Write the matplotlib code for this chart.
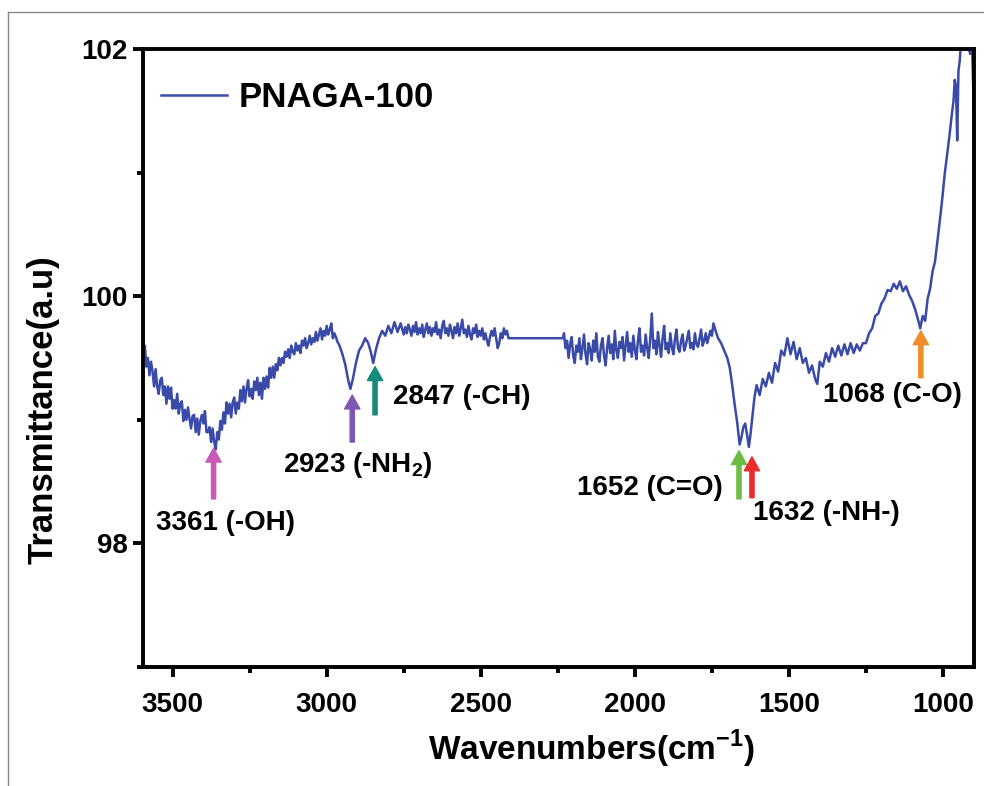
import matplotlib
matplotlib.use('Agg')
import matplotlib.pyplot as plt
from matplotlib.lines import Line2D
from matplotlib.ticker import MultipleLocator

plt.rcParams['font.family'] = ['Liberation Sans']
plt.rcParams['font.weight'] = 'bold'
plt.rcParams['mathtext.fontset'] = 'custom'
plt.rcParams['mathtext.rm'] = 'Liberation Sans:bold'
plt.rcParams['mathtext.bf'] = 'Liberation Sans:bold'

# FTIR spectrum of PNAGA-100
# broad -OH band
wn_oh = [
    3600, 3595, 3590, 3585, 3580, 3575, 3570, 3565, 3560, 3555,
    3550, 3545, 3540, 3535, 3530, 3525, 3520, 3515, 3510, 3505,
    3500, 3495, 3490, 3485, 3480, 3475, 3470, 3465, 3460, 3455,
    3450, 3445, 3440, 3435, 3430, 3425, 3420, 3415, 3410, 3405,
    3400, 3395, 3390, 3385, 3380, 3375, 3370, 3365, 3360, 3355,
    3350, 3345, 3340, 3335, 3330, 3325, 3320, 3315, 3310, 3305,
    3300, 3295, 3290, 3285, 3280, 3275, 3270, 3265, 3260, 3255,
    3250, 3245, 3240, 3235, 3230, 3225, 3220, 3215, 3210, 3205,
    3200, 3195, 3190, 3185, 3180, 3175, 3170, 3165, 3160, 3155,
]
t_oh = [
    99.64, 99.51, 99.60, 99.43, 99.50, 99.36, 99.47, 99.39, 99.27, 99.41,
    99.27, 99.21, 99.32, 99.34, 99.20, 99.27, 99.13, 99.27, 99.17, 99.26,
    99.09, 99.16, 99.09, 99.21, 99.05, 99.13, 99.15, 98.99, 99.08, 99.00,
    99.10, 99.01, 98.93, 99.03, 99.04, 98.90, 99.01, 98.88, 98.99, 99.04,
    98.97, 99.07, 98.90, 98.90, 98.94, 98.82, 98.93, 98.82, 98.76, 98.90,
    98.84, 98.99, 98.92, 99.06, 98.97, 99.14, 99.05, 99.13, 99.02, 99.14,
    99.18, 99.05, 99.14, 99.09, 99.24, 99.15, 99.27, 99.14, 99.25, 99.32,
    99.19, 99.25, 99.17, 99.31, 99.24, 99.34, 99.20, 99.30, 99.17, 99.34,
    99.25, 99.35, 99.26, 99.42, 99.34, 99.43, 99.34, 99.45, 99.40, 99.50,
]
# rise towards the C-H region
wn_rise = [
    3150, 3145, 3140, 3135, 3130, 3125, 3120, 3115, 3110, 3105,
    3100, 3095, 3090, 3085, 3080, 3075, 3070, 3065, 3060, 3055,
    3050, 3045, 3040, 3035, 3030, 3025, 3020, 3015, 3010, 3005,
    3000, 2995, 2990, 2985, 2980, 2975, 2970, 2965, 2960,
]
t_rise = [
    99.44, 99.50, 99.46, 99.55, 99.51, 99.57, 99.50, 99.60, 99.55, 99.53,
    99.62, 99.56, 99.60, 99.54, 99.64, 99.60, 99.66, 99.58, 99.62, 99.68,
    99.61, 99.66, 99.63, 99.71, 99.64, 99.69, 99.74, 99.65, 99.72, 99.68,
    99.76, 99.69, 99.73, 99.78, 99.66, 99.70, 99.67, 99.63, 99.61,
]
# -NH2 and -CH dips
wn_ch = [
    2950, 2940, 2930, 2923, 2915, 2905, 2895, 2885, 2875, 2865,
    2857, 2849, 2840, 2830, 2820, 2810, 2800, 2790, 2780, 2770,
    2760, 2750,
]
t_ch = [
    99.54, 99.45, 99.32, 99.25, 99.33, 99.46, 99.56, 99.60, 99.66, 99.62,
    99.55, 99.46, 99.57, 99.66, 99.72, 99.68, 99.76, 99.70, 99.79, 99.71,
    99.78, 99.69,
]
# plateau before the instrument gap
wn_plat = [
    2745, 2740, 2735, 2730, 2725, 2720, 2715, 2710, 2705, 2700,
    2695, 2690, 2685, 2680, 2675, 2670, 2665, 2660, 2655, 2650,
    2645, 2640, 2635, 2630, 2625, 2620, 2615, 2610, 2605, 2600,
    2595, 2590, 2585, 2580, 2575, 2570, 2565, 2560, 2555, 2550,
    2545, 2540, 2535, 2530, 2525, 2520, 2515, 2510, 2505, 2500,
    2495, 2490, 2485, 2480, 2475, 2470, 2465, 2460, 2455, 2450,
    2445, 2440, 2435, 2430, 2425, 2420, 2415, 2410,
]
t_plat = [
    99.75, 99.70, 99.77, 99.73, 99.68, 99.76, 99.71, 99.79, 99.69, 99.74,
    99.70, 99.77, 99.67, 99.73, 99.78, 99.70, 99.75, 99.68, 99.74, 99.71,
    99.79, 99.69, 99.73, 99.66, 99.76, 99.80, 99.70, 99.74, 99.68, 99.77,
    99.72, 99.66, 99.75, 99.70, 99.78, 99.68, 99.74, 99.81, 99.70, 99.73,
    99.67, 99.76, 99.69, 99.65, 99.74, 99.70, 99.77, 99.67, 99.72, 99.68,
    99.74, 99.65, 99.70, 99.64, 99.60, 99.67, 99.72, 99.68, 99.74, 99.66,
    99.58, 99.62, 99.70, 99.66, 99.74, 99.69, 99.72, 99.66,
]
# noisy stretch 2233-1738
wn_mid = [
    2233, 2230, 2225, 2220, 2215, 2210, 2205, 2200, 2195, 2190,
    2185, 2180, 2175, 2170, 2165, 2160, 2155, 2150, 2145, 2140,
    2135, 2130, 2125, 2120, 2115, 2110, 2105, 2100, 2095, 2090,
    2085, 2080, 2075, 2070, 2065, 2060, 2055, 2050, 2045, 2040,
    2035, 2030, 2025, 2020, 2015, 2010, 2005, 2000, 1995, 1990,
    1985, 1980, 1975, 1970, 1965, 1960, 1955, 1950, 1945, 1940,
    1935, 1930, 1925, 1920, 1915, 1910, 1905, 1900, 1895, 1890,
    1885, 1880, 1875, 1870, 1865, 1860, 1855, 1850, 1845, 1840,
    1835, 1830, 1825, 1820, 1815, 1810, 1805, 1800, 1795, 1790,
    1785, 1780, 1775, 1770, 1765, 1760, 1755, 1750, 1745, 1738,
]
t_mid = [
    99.66, 99.70, 99.58, 99.64, 99.50, 99.61, 99.67, 99.52, 99.46, 99.60,
    99.55, 99.66, 99.49, 99.58, 99.69, 99.53, 99.45, 99.62, 99.57, 99.48,
    99.64, 99.55, 99.70, 99.51, 99.47, 99.60, 99.66, 99.52, 99.44, 99.58,
    99.68, 99.54, 99.61, 99.49, 99.72, 99.56, 99.50, 99.63, 99.58, 99.67,
    99.48, 99.60, 99.71, 99.55, 99.62, 99.51, 99.68, 99.57, 99.49, 99.64,
    99.74, 99.55, 99.60, 99.52, 99.69, 99.58, 99.50, 99.66, 99.86, 99.58,
    99.64, 99.53, 99.71, 99.60, 99.51, 99.66, 99.76, 99.57, 99.62, 99.54,
    99.70, 99.59, 99.53, 99.65, 99.73, 99.58, 99.55, 99.64, 99.69, 99.56,
    99.60, 99.66, 99.72, 99.58, 99.62, 99.57, 99.70, 99.61, 99.59, 99.66,
    99.73, 99.60, 99.64, 99.70, 99.62, 99.67, 99.72, 99.68, 99.78, 99.72,
]
# C=O / -NH- doublet
wn_co = [
    1730, 1720, 1710, 1700, 1692, 1684, 1676, 1668, 1660, 1654,
    1648, 1642, 1636, 1630, 1624, 1618, 1612,
]
t_co = [
    99.66, 99.62, 99.56, 99.50, 99.42, 99.28, 99.12, 98.98, 98.80, 98.86,
    98.94, 98.97, 98.88, 98.78, 98.90, 99.04, 99.18,
]
# recovery 1605-1260
wn_low = [
    1605, 1595, 1585, 1575, 1565, 1555, 1545, 1535, 1525, 1515,
    1505, 1495, 1485, 1475, 1465, 1455, 1445, 1435, 1425, 1415,
    1408, 1400, 1390, 1380, 1370, 1360, 1350, 1340, 1330, 1320,
    1310, 1300, 1290, 1280, 1270, 1260,
]
t_low = [
    99.28, 99.20, 99.33, 99.27, 99.38, 99.30, 99.46, 99.39, 99.56, 99.52,
    99.66, 99.53, 99.63, 99.49, 99.58, 99.46, 99.50, 99.38, 99.44, 99.33,
    99.29, 99.47, 99.43, 99.54, 99.47, 99.58, 99.51, 99.60, 99.52, 99.61,
    99.53, 99.62, 99.54, 99.61, 99.56, 99.62,
]
# C-O band and steep rise at the end
wn_end = [
    1250, 1240, 1230, 1220, 1210, 1200, 1190, 1180, 1170, 1160,
    1150, 1140, 1130, 1120, 1110, 1100, 1090, 1080, 1074, 1066,
    1058, 1050, 1042, 1034, 1026, 1018, 1010, 1002, 995, 988,
    980, 972, 966, 962, 958, 954, 950, 946, 942, 936,
    930, 924, 918, 912, 906, 902, 900,
]
t_end = [
    99.62, 99.70, 99.74, 99.84, 99.86, 99.94, 99.98, 100.05, 100.04, 100.10,
    100.06, 100.12, 100.04, 100.08, 100.01, 99.96, 99.89, 99.80, 99.74, 99.84,
    99.80, 99.98, 100.06, 100.20, 100.28, 100.45, 100.62, 100.80, 100.98, 101.12,
    101.28, 101.46, 101.58, 101.75, 101.70, 101.26, 101.82, 101.90, 102.04, 102.06,
    102.02, 102.05, 102.03, 101.96, 102.04, 101.70, 101.50,
]

wavenumber = wn_oh + wn_rise + wn_ch + wn_plat + wn_mid + wn_co + wn_low + wn_end
transmittance = t_oh + t_rise + t_ch + t_plat + t_mid + t_co + t_low + t_end

# peak assignments: label, peak wavenumber, arrow colour
peak_labels = ['3361 (-OH)', '2923 (-NH$_2$)', '2847 (-CH)', '1652 (C=O)', '1632 (-NH-)', '1068 (C-O)']
peak_wn = [3367, 2917, 2843, 1662, 1620, 1072]
arrow_colors = ['#c75bb5', '#7d57b3', '#168a7d', '#6cbd45', '#ee2b2b', '#f28c28']

fig = plt.figure(figsize=(9.84, 7.86), dpi=100)
ax = fig.add_axes([0.145, 0.1514, 0.845, 0.7863])

ax.plot(wavenumber, transmittance, color='#3a4aa8', lw=1.8, label='PNAGA-100')

ax.set_xlim(3597, 899)
ax.set_ylim(97, 102)
ax.xaxis.set_major_locator(MultipleLocator(500))
ax.xaxis.set_minor_locator(MultipleLocator(250))
ax.yaxis.set_major_locator(MultipleLocator(2))
ax.yaxis.set_minor_locator(MultipleLocator(1))

for s in ax.spines.values():
    s.set_linewidth(2.8)
ax.tick_params(which='major', direction='out', length=7, width=2.8, labelsize=20)
ax.tick_params(axis='x', which='major', pad=11)
ax.tick_params(axis='y', which='major', pad=4)
ax.tick_params(which='minor', direction='out', length=4, width=2.8)

ax.set_xlabel('Wavenumbers(cm$^{-1}$)', fontsize=24, fontweight='bold', va='top')
ax.xaxis.set_label_coords(0.54, -0.098)
ax.set_ylabel('Transmittance(a.u)', fontsize=25, fontweight='bold')
ax.yaxis.set_label_coords(-0.100, 0.416)

# arrows (tail, tip) and label spots
arrow_y = [(98.36, 98.77), (98.82, 99.20), (99.04, 99.43), (98.36, 98.75), (98.37, 98.70), (99.34, 99.72)]
text_xy = [(3329, 98.11, 'center'), (2898, 98.575, 'center'), (2784, 99.13, 'left'),
           (1714, 98.39, 'right'), (1617, 98.19, 'left'), (1164, 99.14, 'center')]
for lab, x, c, (y0, y1), (tx, ty, ha) in zip(peak_labels, peak_wn, arrow_colors, arrow_y, text_xy):
    ax.annotate('', xy=(x, y1), xytext=(x, y0),
                arrowprops=dict(color=c, width=3, headwidth=11, headlength=10, shrink=0))
    ax.text(tx, ty, lab, fontsize=20, fontweight='bold', ha=ha, va='baseline')

ax.legend(loc='center left', bbox_to_anchor=(0.022, 0.922), frameon=False,
          borderpad=0, borderaxespad=0, handlelength=1.9, handletextpad=0.34,
          prop={'weight': 'bold', 'size': 25})

# thin grey frame round the picture
fig.add_artist(Line2D([8 / 984, 8 / 984], [0, 1 - 12 / 786], transform=fig.transFigure, color='#888888', lw=1))
fig.add_artist(Line2D([8 / 984, 1], [1 - 12 / 786, 1 - 12 / 786], transform=fig.transFigure, color='#888888', lw=1))

fig.savefig('out.png', dpi=100)
